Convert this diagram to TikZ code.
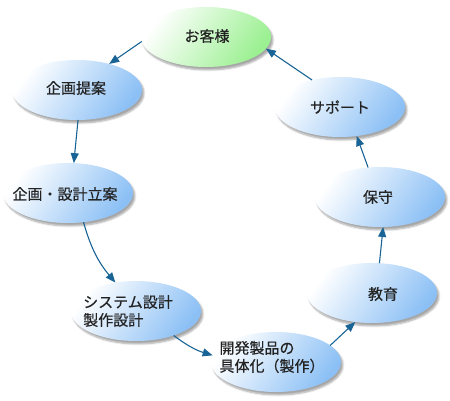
\documentclass[tikz,border=0pt]{standalone}
\usepackage{fontspec}
\newfontfamily\jp[FakeBold=0.5]{Noto Sans CJK JP}
\usetikzlibrary{shapes.geometric,arrows.meta,shadows.blur}
\definecolor{ellblue}{RGB}{140,192,245}
\definecolor{ellgreen}{RGB}{155,240,145}
\definecolor{arrowc}{RGB}{25,100,150}
\definecolor{txtc}{RGB}{35,35,35}
\tikzset{
  ell/.style={ellipse, minimum width=130pt, minimum height=60pt, inner sep=0pt, outer sep=0pt,
    top color=white, bottom color=#1, shading angle=55,
    blur shadow={shadow xshift=2pt, shadow yshift=-3pt, shadow opacity=35, shadow blur steps=6}},
  ell/.default=ellblue,
  txt/.style={font=\jp\fontsize{15}{18}\selectfont, text=txtc, align=left, inner sep=0pt},
  conn/.style={draw=arrowc, line width=1.1pt, -{Triangle[length=10pt,width=8pt]}}
}
\begin{document}
\begin{tikzpicture}[x=1pt,y=1pt]
\useasboundingbox (0,0) rectangle (450,400);
% ellipses
\node[ell=ellgreen] (e1) at (206,363) {};
\node[ell] (e2) at (77,310) {};
\node[ell] (e3) at (68,207) {};
\node[ell] (e4) at (136,89) {};
\node[ell] (e5) at (276,38) {};
\node[ell] (e6) at (372,107) {};
\node[ell] (e7) at (380,203) {};
\node[ell] (e8) at (340,293) {};
% texts
\node[txt] (t1) at (207,364) {お客様};
\node[txt] (t2) at (76,312) {企画提案};
\node[txt] (t3) at (65,206) {企画・設計立案};
\node[txt] (t4) at (128,89) {システム設計\\製作設計};
\node[txt] (t5) at (272,43) {開発製品の\\具体化（製作）};
\node[txt] (t6) at (383,106) {教育};
\node[txt] (t7) at (378,203) {保守};
\node[txt] (t8) at (340,293) {サポート};
% connectors
\draw[conn] (e1.184) -- (e2.39);
\draw[conn] (e2.272) -- (e3.79);
\draw[conn] (e3.-62) to[bend right=12] (e4.126);
\draw[conn] (e4.-33) to[bend right=10] (e5.174);
\draw[conn] (e5.17) -- (e6.240);
\draw[conn] (e6.76) -- (e7.276);
\draw[conn] (e7.112) -- (e8.-60);
\draw[conn] (e8.136) -- (e1.-11);
\end{tikzpicture}
\end{document}
